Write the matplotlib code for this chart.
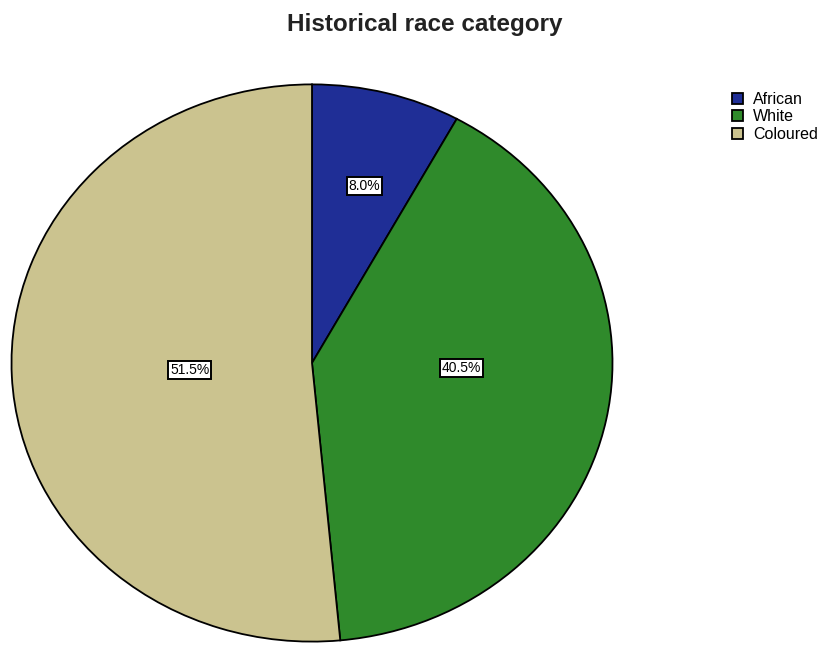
import matplotlib.pyplot as plt

### DATOS ###
categorias = ['African', 'White', 'Coloured']
porcentajes = [8.0, 40.5, 51.5]
colores = ['#1f2e96', '#2f8a2b', '#cbc38f']
titulo = 'Historical race category'

plt.rcParams['font.family'] = ['Liberation Sans', 'DejaVu Sans']

### FIGURA ###
W, H = 821, 648
fig = plt.figure(figsize=(W / 100, H / 100), dpi=100)

# el pie del original esta algo aplastado (escaneo), se usa aspecto libre
cx, cy, rx, ry = 312, 363, 302, 280
ax = fig.add_axes([(cx - rx) / W, (H - cy - ry) / H, 2 * rx / W, 2 * ry / H])

wedges, textos, autotextos = ax.pie(
    porcentajes, colors=colores, startangle=90, counterclock=False,
    autopct='%1.1f%%', pctdistance=0.5,
    wedgeprops=dict(edgecolor='black', linewidth=1.3),
    textprops=dict(fontsize=10, color='black'))
ax.set_aspect('auto')
ax.set_xlim(-1.005, 1.005)
ax.set_ylim(-1.005, 1.005)

# posiciones de las etiquetas como en SPSS
pos_etiquetas = [(0.175, 0.636), (0.498, -0.018), (-0.407, -0.025)]
for t, p in zip(autotextos, pos_etiquetas):
    t.set_position(p)
    t.set_bbox(dict(facecolor='white', edgecolor='black', linewidth=1.4,
                    boxstyle='square,pad=0.15'))

fig.text(425 / W, 1 - 25 / H, titulo, ha='center', va='center',
         fontsize=17.5, fontweight='bold', color='#222222')

fig.legend(wedges, categorias, loc='upper left',
           bbox_to_anchor=(732 / W, 1 - 92 / H), frameon=False,
           fontsize=11.5, handlelength=0.7, handleheight=0.7,
           handletextpad=0.6, labelspacing=0.15, borderpad=0, borderaxespad=0)

fig.savefig('out.png', dpi=100, facecolor='white')
